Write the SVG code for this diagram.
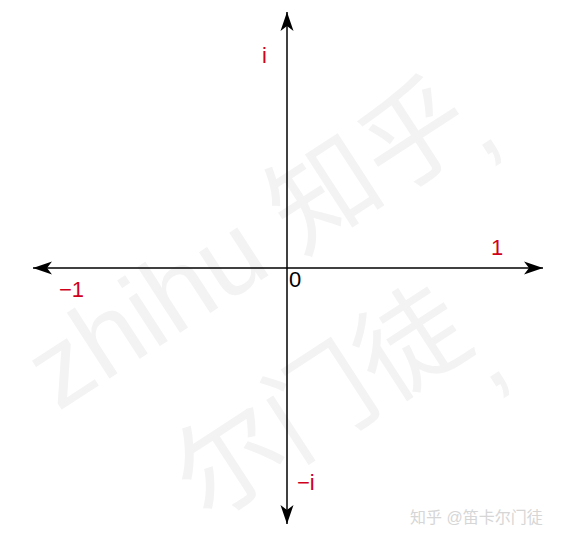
<svg xmlns="http://www.w3.org/2000/svg" width="561" height="542" viewBox="0 0 561 542">
  <style>
    .axis { stroke: #000; stroke-width: 1.5; fill: none; }
    .lbl { font-family: "Liberation Sans", Arial, sans-serif; font-size: 22px; fill: #d0021b; }
    .zero { font-family: "Liberation Sans", Arial, sans-serif; font-size: 22px; fill: #000; }
    .wm { font-family: "Liberation Sans", "Noto Sans CJK SC", sans-serif; font-size: 108px; fill: #f3f3f3; }
    .credit { font-family: "Liberation Sans", "Noto Sans CJK SC", sans-serif; font-size: 16px; fill: #d6d6d6; }
  </style>
  <defs>
    <marker id="arr" viewBox="-20 -8 22 16" refX="0" refY="0" markerWidth="22" markerHeight="16" markerUnits="userSpaceOnUse" orient="auto-start-reverse">
      <path d="M0,0 L-19,-6.5 L-14,0 L-19,6.5 Z" fill="#000"/>
    </marker>
  </defs>
  <rect width="561" height="542" fill="#fff"/>
  <g id="watermark">
    <text class="wm" transform="translate(58,412) rotate(-33)">zhihu 知乎</text>
    <text class="wm" transform="translate(480,160) rotate(-33)">,</text>
    <text class="wm" transform="translate(205,522) rotate(-33)">尔门徒</text>
    <text class="wm" transform="translate(488,392) rotate(-33)">,</text>
  </g>
  <g id="connectors">
    <line class="axis" x1="33" y1="268" x2="543" y2="268" marker-start="url(#arr)" marker-end="url(#arr)"/>
    <line class="axis" x1="287" y1="524" x2="287" y2="12" marker-start="url(#arr)" marker-end="url(#arr)"/>
  </g>
  <g id="label-i"><text class="lbl" x="262" y="63">i</text></g>
  <g id="label-minus1"><text class="lbl" x="59" y="297">−1</text></g>
  <g id="label-1"><text class="lbl" x="491" y="255">1</text></g>
  <g id="label-0"><text class="zero" x="289" y="287">0</text></g>
  <g id="label-minusi"><text class="lbl" x="297" y="490">−i</text></g>
  <g id="credit"><text class="credit" x="410" y="523">知乎 @笛卡尔门徒</text></g>
</svg>
